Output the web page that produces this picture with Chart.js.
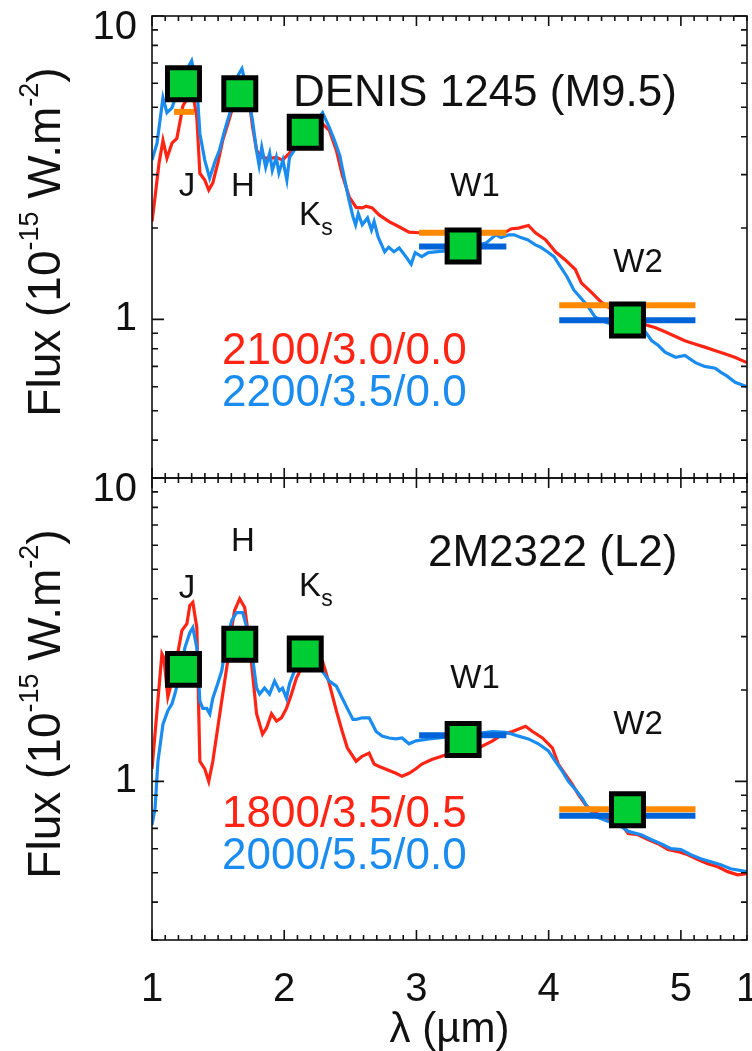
<!DOCTYPE html>
<html>
<head>
<meta charset="utf-8">
<title>SED fits</title>
<script src="https://cdn.jsdelivr.net/npm/chart.js@4.4.1/dist/chart.umd.min.js"></script>
<style>
  html, body { margin: 0; padding: 0; background: #fff; }
  #page { position: relative; width: 752px; height: 1051px; overflow: hidden; }
  canvas { position: absolute; left: 0; }
  #denis { top: 0; }
  #m2322 { top: 460px; }
</style>
</head>
<body>
<div id="page">
  <canvas id="denis" width="752" height="500"></canvas>
  <canvas id="m2322" width="752" height="591"></canvas>
</div>
<script>
// model spectra, wavelength in um, flux in 1e-15 W m^-2
var denisRedLam = [1.000,1.023,1.053,1.083,1.113,1.151,1.188,1.211,1.234,1.271,1.309,1.339,1.362,1.399,1.429,1.460,1.497,1.535,1.588,1.625,1.648,1.686,1.738,1.761,1.791,1.829,1.866,1.904,1.942,1.987,2.040,2.092,2.137,2.213,2.288,2.341,2.394,2.439,2.492,2.544,2.589,2.620,2.665,2.718,2.793,2.868,2.944,3.019,3.169,3.320,3.471,3.621,3.674,3.719,3.772,3.847,3.900,3.976,4.051,4.126,4.202,4.247,4.322,4.397,4.473,4.548,4.623,4.729,4.804,4.880,4.955,5.030,5.105,5.181,5.256,5.331,5.407,5.500];
var denisRedFlux = [2.10,2.53,3.27,3.89,3.40,3.81,3.95,4.46,5.06,5.38,5.55,4.63,3.03,2.88,2.67,2.82,3.27,3.89,4.63,5.26,5.68,5.99,5.15,4.30,3.61,3.42,3.40,3.40,3.42,3.35,3.53,3.89,4.10,4.26,4.42,4.20,3.61,2.99,2.53,2.34,2.33,2.36,2.33,2.21,2.10,2.02,1.94,1.93,1.93,1.91,1.91,1.93,1.94,1.99,2.00,2.04,1.93,1.83,1.67,1.57,1.46,1.32,1.23,1.14,1.08,1.03,0.99,0.96,0.94,0.91,0.88,0.85,0.83,0.81,0.79,0.77,0.75,0.72];

var denisBlueLam = [1.000,1.038,1.083,1.113,1.151,1.188,1.250,1.300,1.339,1.362,1.399,1.436,1.475,1.510,1.550,1.600,1.640,1.680,1.720,1.760,1.790,1.810,1.830,1.860,1.890,1.910,1.940,1.960,1.990,2.020,2.040,2.090,2.140,2.200,2.260,2.290,2.340,2.380,2.420,2.450,2.490,2.520,2.540,2.560,2.590,2.630,2.660,2.680,2.710,2.760,2.790,2.830,2.870,2.920,2.960,2.990,3.040,3.090,3.140,3.350,3.530,3.600,3.640,3.700,3.740,3.790,3.840,3.900,3.940,3.990,4.040,4.090,4.140,4.190,4.240,4.300,4.350,4.400,4.550,4.730,4.780,4.830,4.880,4.960,5.030,5.110,5.180,5.260,5.300,5.350,5.410,5.500];
var denisBlueFlux = [3.35,3.81,5.38,4.80,4.98,5.55,6.50,7.12,5.90,4.10,3.35,2.92,3.30,3.61,4.20,4.98,6.26,6.70,5.68,4.53,3.61,3.22,3.69,3.17,3.53,3.10,3.42,3.04,3.35,2.88,3.42,3.69,3.98,4.36,4.60,4.80,4.30,3.89,3.47,2.99,2.47,2.18,2.05,2.23,2.05,2.16,1.97,2.10,1.87,1.67,1.73,1.67,1.72,1.61,1.52,1.66,1.61,1.66,1.67,1.70,1.79,1.90,1.86,1.90,1.90,1.86,1.83,1.76,1.73,1.67,1.61,1.49,1.38,1.25,1.18,1.10,1.02,0.99,0.94,0.91,0.85,0.82,0.78,0.75,0.76,0.72,0.70,0.69,0.67,0.65,0.62,0.60];

var m2322RedLam = [1.000,1.038,1.075,1.090,1.120,1.170,1.226,1.264,1.286,1.309,1.339,1.362,1.399,1.429,1.460,1.497,1.535,1.573,1.603,1.625,1.663,1.701,1.738,1.791,1.836,1.866,1.904,1.942,1.979,2.017,2.055,2.092,2.170,2.288,2.341,2.394,2.439,2.477,2.492,2.544,2.589,2.642,2.680,2.718,2.770,2.845,2.891,2.944,2.996,3.041,3.116,3.191,3.350,3.471,3.576,3.652,3.727,3.825,3.878,3.953,4.028,4.073,4.126,4.179,4.224,4.277,4.329,4.550,4.601,4.676,4.751,4.827,4.902,4.977,5.053,5.128,5.203,5.279,5.354,5.429,5.500];
var m2322RedFlux = [1.10,1.71,2.63,2.55,1.90,2.31,3.14,3.31,3.80,3.89,3.21,1.165,1.10,1.00,1.165,1.50,1.94,2.50,3.21,3.66,4.00,3.74,2.84,1.67,1.43,1.50,1.67,1.58,1.62,1.74,1.94,2.19,2.55,2.50,2.10,1.71,1.46,1.29,1.26,1.165,1.21,1.24,1.14,1.12,1.096,1.063,1.039,1.063,1.10,1.14,1.18,1.21,1.28,1.29,1.36,1.43,1.46,1.52,1.46,1.39,1.29,1.14,1.055,0.977,0.906,0.839,0.796,0.72,0.673,0.667,0.643,0.623,0.596,0.587,0.573,0.552,0.535,0.523,0.504,0.492,0.496];

var m2322BlueLam = [1.000,1.023,1.045,1.083,1.120,1.151,1.173,1.215,1.249,1.286,1.309,1.339,1.362,1.384,1.414,1.437,1.460,1.497,1.527,1.565,1.603,1.640,1.686,1.723,1.761,1.791,1.814,1.851,1.889,1.927,1.964,1.987,2.017,2.040,2.077,2.170,2.288,2.341,2.394,2.439,2.477,2.520,2.544,2.589,2.642,2.695,2.740,2.793,2.845,2.891,2.944,2.996,3.094,3.169,3.350,3.471,3.576,3.674,3.727,3.772,3.847,3.922,3.998,4.051,4.104,4.149,4.202,4.254,4.299,4.352,4.550,4.601,4.699,4.774,4.849,4.925,5.000,5.075,5.150,5.226,5.301,5.376,5.500];
var m2322BlueFlux = [0.72,0.814,1.165,1.544,1.71,1.80,1.94,2.30,2.76,3.09,3.21,2.76,1.84,1.74,1.74,1.67,1.88,2.10,2.31,2.91,3.39,3.60,3.60,3.14,2.55,2.03,1.94,2.03,1.94,2.14,1.99,2.03,1.88,2.10,2.31,2.60,2.31,2.14,2.06,1.88,1.74,1.60,1.60,1.62,1.62,1.46,1.41,1.39,1.38,1.39,1.33,1.36,1.38,1.39,1.42,1.44,1.46,1.45,1.43,1.41,1.38,1.33,1.26,1.165,1.079,1.00,0.941,0.878,0.814,0.766,0.71,0.684,0.667,0.643,0.623,0.600,0.596,0.573,0.556,0.543,0.531,0.515,0.504];

// observed photometry
var bandNames = ['J', 'H', 'Ks', 'W1', 'W2'];
var bandLam = [1.238, 1.664, 2.159, 3.353, 4.596];
var denisPhot = [5.98, 5.54, 4.14, 1.745, 0.995];
var m2322Phot = [2.34, 2.83, 2.63, 1.374, 0.806];

// synthetic photometry of each model over the filter width
var synBands = ['J', 'W1', 'W2'];
var synLo = [1.166, 3.02, 4.08];
var synHi = [1.318, 3.68, 5.11];
var denisRedSyn = [4.83, 1.93, 1.114];
var denisBlueSyn = [null, 1.74, 0.993];
var m2322RedSyn = [null, null, 0.81];
var m2322BlueSyn = [null, 1.42, 0.77];

// axis labels
var xTickLabels = ['1', '2', '3', '4', '5'];
var yTickLabels = [1, 10];

var FONT = '"Liberation Sans", Arial, Helvetica, sans-serif';
var INK = '#111';
var RED = '#ff2414', BLUE = '#1a8cf0', ORANGE = '#ff8a00', DKBLUE = '#0064d8', GREEN = '#00cc33';

function fontPx(px) { return px + 'px ' + FONT; }

function xy(lam, flux) {
  return lam.map(function (l, i) { return { x: l, y: flux[i] }; });
}

// text drawn on each panel (offsets are from the plot box corner)
var panelText = {
  denis: {
    name: 'DENIS 1245 (M9.5)', nameDx: 141, nameDy: 90,
    models: [['2100/3.0/0.0', RED], ['2200/3.5/0.0', BLUE]], modelDx: 70, modelDy: 336,
    bands: [['J', 1.265, 2.73], ['H', 1.688, 2.73], ['Ks', 2.195, 2.19], ['W1', 3.443, 2.73], ['W2', 4.676, 1.54]],
    xLabels: false
  },
  m2322: {
    name: '2M2322 (L2)', nameDx: 276, nameDy: 88,
    models: [['1800/3.5/0.5', RED], ['2000/5.5/0.0', BLUE]], modelDx: 70, modelDy: 337,
    bands: [['J', 1.265, 4.32], ['H', 1.688, 6.14], ['Ks', 2.195, 4.39], ['W1', 3.443, 2.18], ['W2', 4.676, 1.53]],
    xLabels: true
  }
};

function bandLabel(ctx, t, x, y) {
  ctx.textAlign = 'center';
  ctx.textBaseline = 'middle';
  if (t === 'Ks') {
    ctx.font = fontPx(33);
    ctx.fillText('K', x, y);
    ctx.font = fontPx(23);
    ctx.fillText('s', x + 17, y + 13);
  } else {
    ctx.font = fontPx(33);
    ctx.fillText(t, x, y);
  }
}

// rotated flux title with raised exponents
function fluxTitle(ctx, bx, cy) {
  var parts = [['Flux (10', 46, 0], ['-15', 27, -22], [' W.m', 46, 0], ['-2', 27, -22], [')', 46, 0]];
  ctx.save();
  ctx.translate(bx, cy);
  ctx.rotate(-Math.PI / 2);
  ctx.textAlign = 'left';
  ctx.textBaseline = 'alphabetic';
  var total = 0;
  parts.forEach(function (p) { ctx.font = fontPx(p[1]); total += ctx.measureText(p[0]).width; });
  var x = -total / 2;
  parts.forEach(function (p) {
    ctx.font = fontPx(p[1]);
    ctx.fillText(p[0], x, p[2]);
    x += ctx.measureText(p[0]).width;
  });
  ctx.restore();
}

// box, inward ticks on all four sides, labels and annotations
var frame = {
  id: 'frame',
  afterDraw: function (chart) {
    var p = panelText[chart.canvas.id];
    var ctx = chart.ctx, a = chart.chartArea;
    var xs = chart.scales.x, ys = chart.scales.y;
    ctx.save();
    ctx.strokeStyle = INK;
    ctx.lineWidth = 1.6;
    ctx.strokeRect(a.left, a.top, a.right - a.left, a.bottom - a.top);
    ctx.beginPath();
    for (var i = 10; i <= 55; i++) {
      var px = xs.getPixelForValue(i / 10);
      var len = i % 10 === 0 ? 10 : 5;
      ctx.moveTo(px, a.bottom); ctx.lineTo(px, a.bottom - len);
      ctx.moveTo(px, a.top); ctx.lineTo(px, a.top + len);
    }
    for (var k = -1; k <= 1; k++) {
      for (var m = 1; m <= 9; m++) {
        var v = m * Math.pow(10, k);
        if (v < ys.min * 0.999 || v > ys.max * 1.001) continue;
        var py = ys.getPixelForValue(v);
        var ln = m === 1 ? 12 : 6;
        ctx.moveTo(a.left, py); ctx.lineTo(a.left + ln, py);
        ctx.moveTo(a.right, py); ctx.lineTo(a.right - ln, py);
      }
    }
    ctx.stroke();

    ctx.fillStyle = INK;
    ctx.font = fontPx(40);
    ctx.textAlign = 'right';
    ctx.textBaseline = 'middle';
    yTickLabels.forEach(function (v) {
      ctx.fillText(String(v), a.left - 15, Math.max(ys.getPixelForValue(v), a.top + 12));
    });

    if (p.xLabels) {
      ctx.textAlign = 'center';
      xTickLabels.forEach(function (t) {
        ctx.fillText(t, xs.getPixelForValue(Number(t)), a.bottom + 50);
      });
      // the neighbouring panel's axis starts where this one ends
      ctx.fillText('1', a.right, a.bottom + 50);
      ctx.font = fontPx(42);
      ctx.fillText('\u03bb (\u00b5m)', (a.left + a.right) / 2, a.bottom + 90);
    }

    fluxTitle(ctx, 60, (a.top + a.bottom) / 2 - 5);

    ctx.textAlign = 'left';
    ctx.textBaseline = 'alphabetic';
    ctx.font = fontPx(44);
    ctx.fillText(p.name, a.left + p.nameDx, a.top + p.nameDy);

    ctx.textBaseline = 'middle';
    p.models.forEach(function (md, j) {
      ctx.fillStyle = md[1];
      ctx.fillText(md[0], a.left + p.modelDx, a.top + p.modelDy + j * 42);
    });

    ctx.fillStyle = INK;
    p.bands.forEach(function (b) {
      bandLabel(ctx, b[0], xs.getPixelForValue(b[1]), ys.getPixelForValue(b[2]));
    });
    ctx.restore();
  }
};

function synSets(vals, color) {
  var out = [];
  vals.forEach(function (v, i) {
    if (v === null) return;
    out.push({
      data: [{ x: synLo[i], y: v }, { x: synHi[i], y: v }],
      showLine: true, borderColor: color, borderWidth: 6, borderCapStyle: 'butt',
      pointRadius: 0, order: 1
    });
  });
  return out;
}

function panel(id, redLam, redFlux, blueLam, blueFlux, phot, redSyn, blueSyn, pad) {
  var sets = [
    { data: xy(redLam, redFlux), showLine: true, borderColor: RED, borderWidth: 3.2, pointRadius: 0, order: 3 },
    { data: xy(blueLam, blueFlux), showLine: true, borderColor: BLUE, borderWidth: 3.2, pointRadius: 0, order: 2 }
  ].concat(synSets(redSyn, ORANGE), synSets(blueSyn, DKBLUE));
  sets.push({
    data: xy(bandLam, phot), pointStyle: 'rect', pointRadius: 22.6,
    backgroundColor: GREEN, borderColor: '#000', borderWidth: 5, order: 0, clip: false
  });
  return new Chart(document.getElementById(id), {
    type: 'scatter',
    data: { datasets: sets },
    options: {
      responsive: false,
      animation: false,
      events: [],
      devicePixelRatio: 1,
      layout: { padding: pad, autoPadding: false },
      scales: {
        x: { type: 'linear', min: 1, max: 5.5, display: false },
        y: { type: 'logarithmic', min: 0.3, max: 10, display: false }
      },
      plugins: { legend: { display: false }, tooltip: { enabled: false } }
    },
    plugins: [frame]
  });
}

panel('denis', denisRedLam, denisRedFlux, denisBlueLam, denisBlueFlux, denisPhot, denisRedSyn, denisBlueSyn,
  { left: 152, right: 5, top: 16, bottom: 22 });
panel('m2322', m2322RedLam, m2322RedFlux, m2322BlueLam, m2322BlueFlux, m2322Phot, m2322RedSyn, m2322BlueSyn,
  { left: 152, right: 5, top: 18, bottom: 111 });
</script>
</body>
</html>
